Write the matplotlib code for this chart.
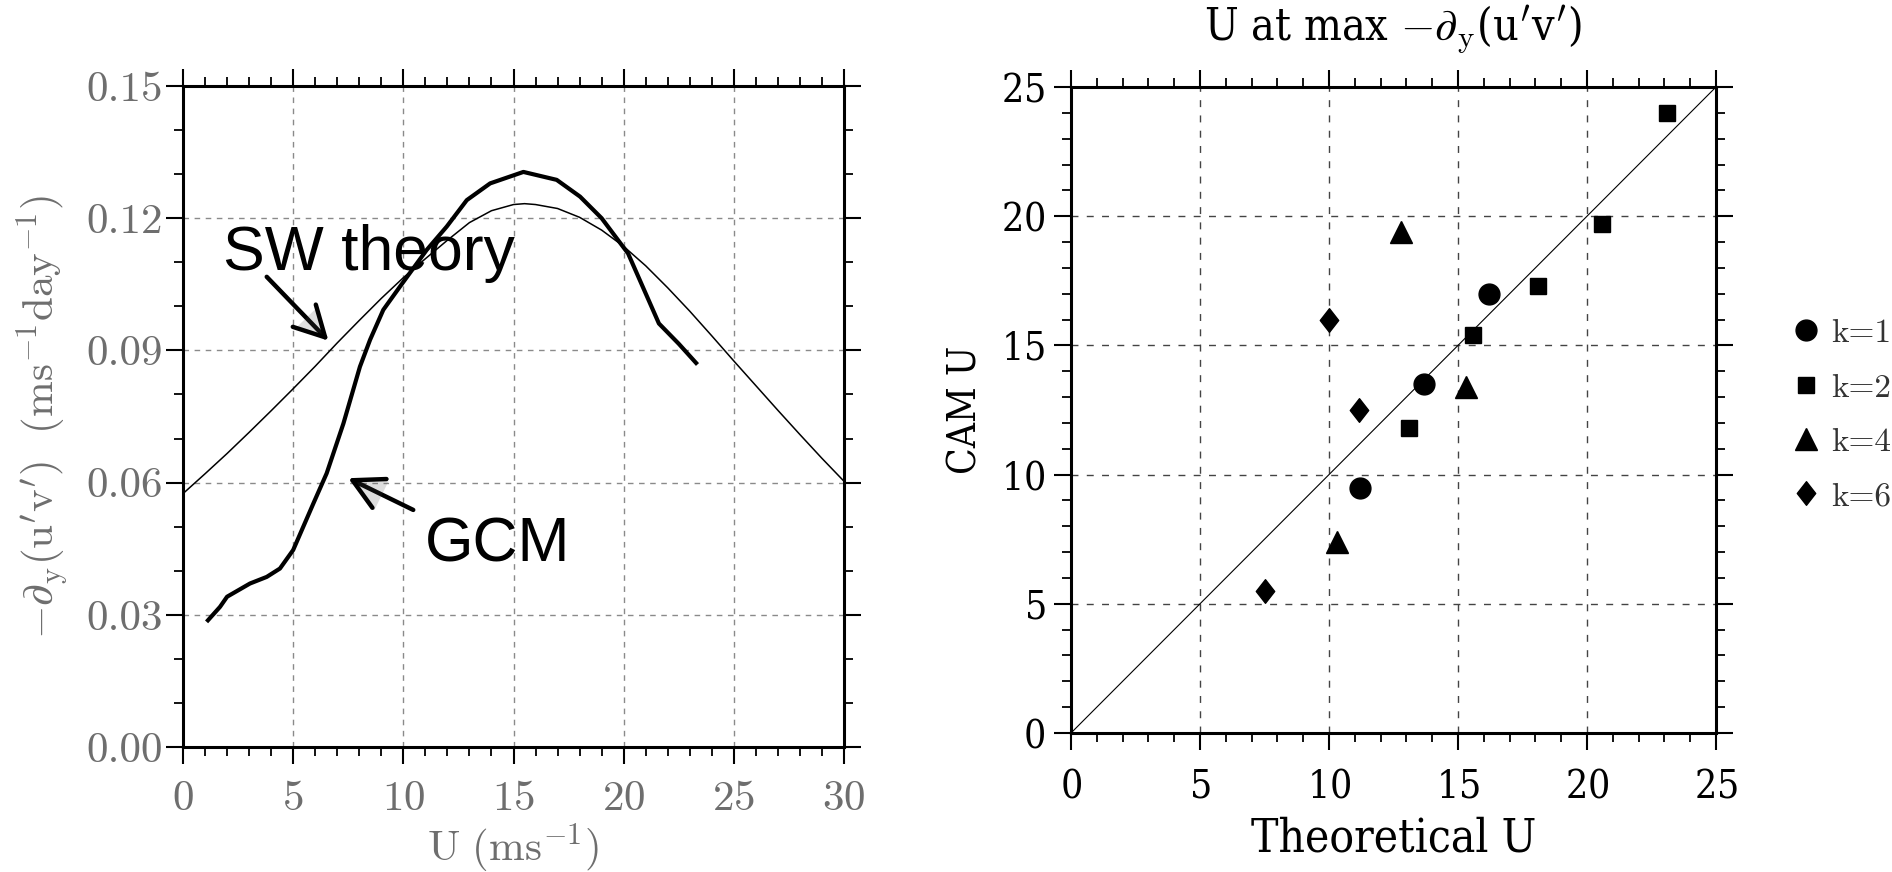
import matplotlib
matplotlib.use("Agg")
import matplotlib.pyplot as plt
import matplotlib.patheffects as pe
from matplotlib import font_manager
from matplotlib.path import Path
from matplotlib.ticker import MultipleLocator, FormatStrFormatter

# ---------------------------------------------------------------
# Left panel: eddy momentum flux convergence as a function of U
# ---------------------------------------------------------------
u_theory = [0, 1, 2, 3, 4, 5, 6, 7, 8, 9, 10, 11, 12, 13, 14, 15, 15.5,
            16, 17, 18, 19, 20, 21, 22, 23, 24, 25, 26, 27, 28, 29, 30]
sw_theory = [0.0575, 0.0620, 0.0666, 0.0714, 0.0763, 0.0813, 0.0864,
             0.0917, 0.0968, 0.1018, 0.1065, 0.1108, 0.1150, 0.1190,
             0.1217, 0.1231, 0.1233, 0.1231, 0.1222, 0.1202, 0.1173,
             0.1136, 0.1092, 0.1042, 0.0989, 0.0933, 0.0876, 0.0820,
             0.0764, 0.0709, 0.0655, 0.0603]

u_gcm = [1.07, 1.68, 2.0, 3.04, 3.8, 4.4, 5.0, 5.92, 6.52, 7.28, 8.03,
         8.49, 9.09, 9.85, 11.06, 11.97, 12.88, 13.94, 15.45, 16.96,
         18.02, 19.0, 20.2, 21.6, 22.5, 23.35]
gcm = [0.0284, 0.0318, 0.0341, 0.0371, 0.0386, 0.0405, 0.0447, 0.0553,
       0.0621, 0.0734, 0.0863, 0.0924, 0.0992, 0.1045, 0.1128, 0.1181,
       0.1241, 0.1279, 0.1305, 0.1287, 0.1249, 0.1200, 0.1120, 0.0961,
       0.0915, 0.0868]

# ---------------------------------------------------------------
# Right panel: U at the flux-convergence maximum, CAM vs theory
# ---------------------------------------------------------------
k1_theory = [11.2, 13.7, 16.2]
k1_cam = [9.5, 13.5, 17.0]
k2_theory = [13.1, 15.6, 18.1, 20.6, 23.1]
k2_cam = [11.8, 15.4, 17.3, 19.7, 24.0]
k4_theory = [10.3, 12.8, 15.3]
k4_cam = [7.4, 19.4, 13.4]
k6_theory = [7.5, 10.0, 11.15]
k6_cam = [5.5, 16.0, 12.5]
one_to_one = [0, 25]

left_xticks = [0, 5, 10, 15, 20, 25, 30]
left_yticks = [0.00, 0.03, 0.06, 0.09, 0.12, 0.15]
right_ticks = [0, 5, 10, 15, 20, 25]

# ---------------------------------------------------------------
# fonts
# ---------------------------------------------------------------
cond = [f for f in font_manager.fontManager.ttflist
        if "SerifCondensed" in f.fname.replace("-", "").replace(" ", "")]
if cond:
    NARROW = dict(family="DejaVu Serif", stretch="condensed")
else:
    NARROW = dict(family="Liberation Serif")
CM = "cmr10"
plt.rcParams["mathtext.fontset"] = "cm"
plt.rcParams["axes.formatter.use_mathtext"] = True

GRAY = "#6e6e6e"

fig = plt.figure(figsize=(18.92, 8.72), dpi=100)
W, H = 1892.0, 872.0

ax1 = fig.add_axes([183 / W, (H - 747) / H, 661 / W, 661 / H])
ax2 = fig.add_axes([1071 / W, (H - 733) / H, 645 / W, 646 / H])


def style_axes(ax):
    for s in ax.spines.values():
        s.set_linewidth(2.2)
        s.set_color("black")
    ax.tick_params(which="both", direction="out", top=True, right=True,
                   labeltop=False, labelright=False, color="black")
    ax.tick_params(which="major", length=12.5, width=1.5)
    ax.tick_params(which="minor", length=6.2, width=1.3)


# ---------------- left panel ----------------
ax1.plot(u_theory, sw_theory, color="black", lw=1.1, zorder=3)
ax1.plot(u_gcm, gcm, color="black", lw=3.0, zorder=4,
         solid_joinstyle="round", solid_capstyle="butt")
ax1.set_xlim(0, 30)
ax1.set_ylim(0, 0.15)
ax1.set_xticks(left_xticks)
ax1.set_yticks(left_yticks)
ax1.xaxis.set_minor_locator(MultipleLocator(1))
ax1.yaxis.set_minor_locator(MultipleLocator(0.01))
ax1.yaxis.set_major_formatter(FormatStrFormatter("%.2f"))
style_axes(ax1)
ax1.grid(True, which="major", color="#8a8a8a", lw=1.0,
         linestyle=(0, (4, 4)), zorder=1)
for lab in ax1.get_xticklabels() + ax1.get_yticklabels():
    lab.set_family(CM)
    lab.set_fontsize(31)
    lab.set_color(GRAY)
ax1.tick_params(axis="x", pad=12)
ax1.tick_params(axis="y", pad=2)
ax1.set_xlabel(r"$\mathrm{U\ (ms^{-1})}$", fontsize=31, color=GRAY,
               labelpad=2)
ax1.set_ylabel(r"$-\partial_\mathrm{y}\mathrm{(u^{\prime}v^{\prime})\ \ (ms^{-1}day^{-1})}$",
               fontsize=31, color=GRAY, labelpad=11)

shadow = [pe.SimplePatchShadow(offset=(1.5, -1.5), alpha=0.18), pe.Normal()]
arrow_style = "->,head_length=0.6,head_width=0.32"
ax1.annotate("SW theory", xy=(1.82, 0.1082), fontsize=45,
             family="Liberation Sans", ha="left", va="baseline",
             color="black", zorder=6)
a1 = ax1.annotate("", xy=(6.6, 0.0922), xytext=(3.8, 0.1067),
                  arrowprops=dict(arrowstyle=arrow_style, lw=3.2,
                                  color="black", mutation_scale=36,
                                  shrinkA=0, shrinkB=0), zorder=6)
a1.arrow_patch.set_path_effects(shadow)
ax1.annotate("GCM", xy=(10.98, 0.042), fontsize=45,
             family="Liberation Sans", ha="left", va="baseline",
             color="black", zorder=6)
a2 = ax1.annotate("", xy=(7.5, 0.061), xytext=(10.45, 0.0538),
                  arrowprops=dict(arrowstyle=arrow_style, lw=3.2,
                                  color="black", mutation_scale=36,
                                  shrinkA=0, shrinkB=0), zorder=6)
a2.arrow_patch.set_path_effects(shadow)

# ---------------- right panel ----------------
diamond = Path([(0, 1), (0.78, 0), (0, -1), (-0.78, 0), (0, 1)],
               [Path.MOVETO, Path.LINETO, Path.LINETO, Path.LINETO,
                Path.CLOSEPOLY])
ax2.plot(one_to_one, one_to_one, color="black", lw=0.8, zorder=2)
h1, = ax2.plot(k1_theory, k1_cam, "o", color="black", ms=15, ls="none", zorder=4)
h2, = ax2.plot(k2_theory, k2_cam, "s", color="black", ms=12, ls="none", zorder=4)
h4, = ax2.plot(k4_theory, k4_cam, "^", color="black", ms=16, ls="none", zorder=4)
h6, = ax2.plot(k6_theory, k6_cam, marker=diamond, color="black", ms=17,
               ls="none", zorder=4)
ax2.set_xlim(0, 25)
ax2.set_ylim(0, 25)
ax2.set_xticks(right_ticks)
ax2.set_yticks(right_ticks)
ax2.xaxis.set_minor_locator(MultipleLocator(1))
ax2.yaxis.set_minor_locator(MultipleLocator(1))
style_axes(ax2)
ax2.grid(True, which="major", color="#444444", lw=1.0,
         linestyle=(0, (5, 6)), zorder=1)
for lab in ax2.get_xticklabels() + ax2.get_yticklabels():
    lab.set_fontsize(28)
    lab.set_color("black")
    for k, v in NARROW.items():
        getattr(lab, "set_" + k)(v)
ax2.tick_params(axis="x", pad=13)
ax2.tick_params(axis="y", pad=6)
ax2.set_xlabel("Theoretical U", fontsize=33, labelpad=8, **NARROW)
ax2.set_ylabel("CAM U", fontsize=28, labelpad=12, **NARROW)
ax2.set_title(r"U at max $-\partial_\mathrm{y}$(u$'$v$'$)", fontsize=32,
              pad=34, **NARROW)

leg = fig.legend([h1, h2, h4, h6], ["k=1", "k=2", "k=4", "k=6"],
                 loc="center left", bbox_to_anchor=(1783 / W, 1 - 415 / H),
                 frameon=False, handlelength=0.6, handletextpad=0.45,
                 labelspacing=0.75, borderaxespad=0,
                 prop=dict(family=CM, size=24))
for t in leg.get_texts():
    t.set_color("#333333")

fig.savefig("out.png", dpi=100)
